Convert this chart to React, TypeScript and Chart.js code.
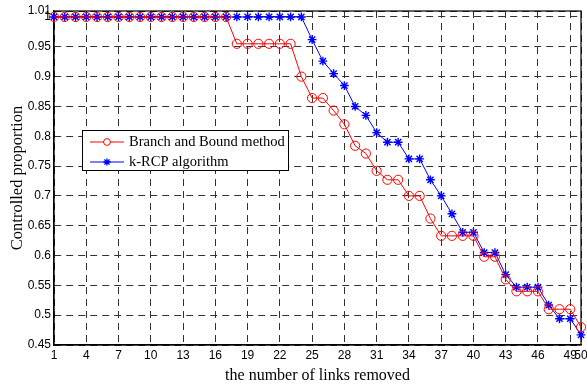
import React, { useEffect, useRef } from 'react';
import { Chart, registerables } from 'chart.js';

Chart.register(...registerables);

const linksRemoved = [
  1, 2, 3, 4, 5, 6, 7, 8, 9, 10, 11, 12, 13, 14, 15, 16, 17, 18, 19, 20, 21, 22, 23, 24, 25,
  26, 27, 28, 29, 30, 31, 32, 33, 34, 35, 36, 37, 38, 39, 40, 41, 42, 43, 44, 45, 46, 47, 48, 49, 50,
];

const branchAndBound = [
  1, 1, 1, 1, 1, 1, 1, 1, 1, 1, 1, 1, 1, 1, 1, 1, 1,
  0.955, 0.955, 0.955, 0.955, 0.955, 0.955,
  0.9, 0.864, 0.864, 0.843, 0.82, 0.784, 0.771, 0.742, 0.727, 0.727, 0.7, 0.7, 0.662,
  0.633, 0.633, 0.633, 0.633, 0.598, 0.598, 0.56, 0.54, 0.54, 0.54, 0.51, 0.51, 0.51, 0.48,
];

const kRCP = [
  1, 1, 1, 1, 1, 1, 1, 1, 1, 1, 1, 1, 1, 1, 1, 1, 1, 1, 1, 1, 1, 1, 1, 1,
  0.962, 0.926, 0.905, 0.885, 0.85, 0.835, 0.806, 0.79, 0.79, 0.762, 0.762, 0.727, 0.7,
  0.67, 0.639, 0.639, 0.605, 0.605, 0.568, 0.547, 0.547, 0.547, 0.517, 0.494, 0.494, 0.467,
];

const xTickValues = [1, 4, 7, 10, 13, 16, 19, 22, 25, 28, 31, 34, 37, 40, 43, 46, 49, 50];
const yTickValues = [0.45, 0.5, 0.55, 0.6, 0.65, 0.7, 0.75, 0.8, 0.85, 0.9, 0.95, 1, 1.01];
const yTickLabels = ['0.45', '0.5', '0.55', '0.6', '0.65', '0.7', '0.75', '0.8', '0.85', '0.9', '0.95', '1', '1.01'];

const seriesNames = ['Branch and Bound method', 'k-RCP algorithm'];
const seriesColors = ['#ff0000', '#0000ff'];

const SANS = '"Liberation Sans", Arial, sans-serif';
const SERIF = '"Liberation Serif", "Times New Roman", serif';

function drawStar(ctx: CanvasRenderingContext2D, x: number, y: number, r: number) {
  ctx.beginPath();
  ctx.moveTo(x - r, y);
  ctx.lineTo(x + r, y);
  ctx.moveTo(x, y - r);
  ctx.lineTo(x, y + r);
  const d = r * Math.SQRT1_2;
  ctx.moveTo(x - d, y - d);
  ctx.lineTo(x + d, y + d);
  ctx.moveTo(x - d, y + d);
  ctx.lineTo(x + d, y - d);
  ctx.stroke();
}

const boxPlugin = {
  id: 'boxPlugin',
  beforeDatasetsDraw(chart: any) {
    const { ctx, chartArea } = chart;
    ctx.save();
    ctx.strokeStyle = '#000';
    ctx.lineWidth = 1.2;
    ctx.setLineDash([]);
    ctx.strokeRect(chartArea.left, chartArea.top, chartArea.right - chartArea.left, chartArea.bottom - chartArea.top);
    ctx.restore();
  },
  afterDraw(chart: any) {
    const { ctx, chartArea } = chart;
    const left = Math.round(chartArea.left + 28) + 0.5;
    const top = Math.round(chartArea.top + 119) + 0.5;
    const w = 206;
    const h = 40;
    ctx.save();
    ctx.fillStyle = '#fff';
    ctx.fillRect(left, top, w, h);
    ctx.strokeStyle = '#000';
    ctx.lineWidth = 1;
    ctx.strokeRect(left, top, w, h);
    ctx.font = `14.5px ${SERIF}`;
    ctx.textBaseline = 'middle';
    ctx.textAlign = 'left';
    for (let i = 0; i < 2; i++) {
      const y = top + 11.5 + i * 20;
      const x0 = left + 7.5;
      const x1 = left + 41.5;
      ctx.strokeStyle = seriesColors[i];
      ctx.lineWidth = 1;
      ctx.beginPath();
      ctx.moveTo(x0, y);
      ctx.lineTo(x1, y);
      ctx.stroke();
      const mx = (x0 + x1) / 2;
      if (i === 0) {
        ctx.beginPath();
        ctx.arc(mx, y, 3.4, 0, Math.PI * 2);
        ctx.fillStyle = '#fff';
        ctx.fill();
        ctx.stroke();
      } else {
        ctx.lineWidth = 1.3;
        drawStar(ctx, mx, y, 3.6);
      }
      ctx.fillStyle = '#000';
      ctx.fillText(seriesNames[i], left + 46.5, y + 0.5);
    }
    ctx.restore();
  },
};

export default function App() {
  const canvasRef = useRef<HTMLCanvasElement | null>(null);

  useEffect(() => {
    if (!canvasRef.current) return;
    const chart = new Chart(canvasRef.current, {
      type: 'line',
      data: {
        datasets: [
          {
            label: seriesNames[0],
            data: linksRemoved.map((x, i) => ({ x, y: branchAndBound[i] })),
            borderColor: seriesColors[0],
            backgroundColor: 'rgba(0,0,0,0)',
            borderWidth: 1,
            pointStyle: 'circle',
            pointRadius: 4.6,
            pointBorderWidth: 1,
            pointBorderColor: seriesColors[0],
            pointBackgroundColor: 'rgba(0,0,0,0)',
            tension: 0,
            clip: false as any,
          },
          {
            label: seriesNames[1],
            data: linksRemoved.map((x, i) => ({ x, y: kRCP[i] })),
            borderColor: seriesColors[1],
            backgroundColor: 'rgba(0,0,0,0)',
            borderWidth: 1,
            pointStyle: 'star',
            pointRadius: 4.4,
            pointBorderWidth: 1.4,
            pointBorderColor: seriesColors[1],
            pointBackgroundColor: seriesColors[1],
            tension: 0,
            clip: false as any,
          },
        ],
      },
      options: {
        responsive: false,
        animation: false,
        events: [],
        layout: { padding: { left: 0, right: 6, top: 11, bottom: 0 } },
        plugins: {
          legend: { display: false },
          tooltip: { enabled: false },
          title: { display: false },
        },
        scales: {
          x: {
            type: 'linear',
            min: 1,
            max: 50,
            afterBuildTicks: (scale: any) => {
              scale.ticks = xTickValues.map((v) => ({ value: v }));
            },
            afterFit: (scale: any) => {
              scale.height = 40;
              scale.paddingLeft = 0;
              scale.paddingRight = 0;
            },
            ticks: {
              autoSkip: false,
              maxRotation: 0,
              padding: 3,
              color: '#000',
              font: { family: SANS, size: 12 },
              callback: (v: any) => String(v),
            },
            grid: {
              color: '#333',
              lineWidth: 1,
              drawTicks: false,
            },
            border: { display: true, color: '#000', width: 1.2, dash: [7, 5] } as any,
            title: {
              display: true,
              text: 'the number of links removed',
              color: '#000',
              font: { family: SERIF, size: 16 },
              padding: { top: 0, bottom: 0 },
            },
          },
          y: {
            type: 'linear',
            min: 0.45,
            max: 1.01,
            afterBuildTicks: (scale: any) => {
              scale.ticks = yTickValues.map((v) => ({ value: v }));
            },
            afterFit: (scale: any) => {
              scale.width = 54;
              scale.paddingTop = 0;
              scale.paddingBottom = 0;
            },
            ticks: {
              autoSkip: false,
              padding: 3,
              color: '#000',
              font: { family: SANS, size: 12 },
              callback: (v: any) => {
                const idx = yTickValues.findIndex((t) => Math.abs(t - Number(v)) < 1e-9);
                return idx >= 0 ? yTickLabels[idx] : '';
              },
            },
            grid: {
              color: '#333',
              lineWidth: 1,
              drawTicks: false,
            },
            border: { display: true, color: '#000', width: 1.2, dash: [7, 5] } as any,
            title: {
              display: true,
              text: 'Controlled proportion',
              color: '#000',
              font: { family: SERIF, size: 16.5 },
              padding: { top: 8, bottom: 0 },
            },
          },
        },
      },
      plugins: [boxPlugin],
    });
    return () => chart.destroy();
  }, []);

  return (
    <div style={{ position: 'fixed', left: 0, top: 0, width: 587, height: 385, background: '#fff' }}>
      <canvas ref={canvasRef} width={587} height={385} style={{ width: 587, height: 385 }} />
    </div>
  );
}
